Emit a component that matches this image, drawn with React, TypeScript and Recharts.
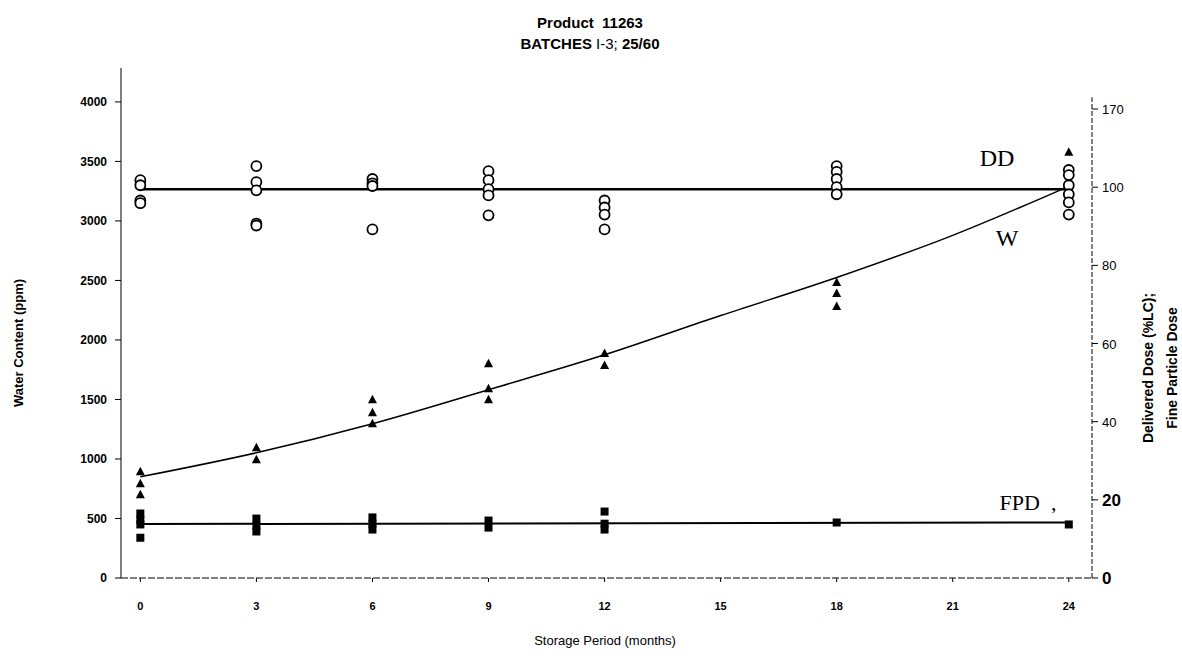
import { ComposedChart, Scatter, Line, XAxis, YAxis, ReferenceLine } from 'recharts';

// storage study, three batches at 25C/60%RH
const sampleMonths = [0, 3, 6, 9, 12, 18, 24];

// delivered dose (%LC), one entry per sample month
const ddByMonth = [
  [101.8, 100.5, 96.6, 95.9],
  [105.4, 101.3, 99.2, 90.7, 90.2],
  [102.1, 101.0, 100.3, 89.2],
  [104.1, 101.8, 99.5, 97.9, 92.8],
  [96.6, 94.8, 93.0, 89.2],
  [105.4, 103.9, 102.1, 100.0, 98.2],
  [104.4, 103.1, 100.5, 98.2, 96.1, 93.0],
];

// water content (ppm)
const waterByMonth = [
  [892, 791, 699],
  [1094, 993],
  [1498, 1389, 1296],
  [1801, 1591, 1498],
  [1886, 1785],
  [2483, 2391, 2281],
  [3577],
];

// fine particle dose
const fpdByMonth = [
  [16.5, 14.9, 13.7, 10.3],
  [15.2, 13.4, 11.9],
  [15.5, 13.9, 12.4],
  [14.7, 12.9],
  [17.0, 13.9, 12.4],
  [14.2],
  [13.7],
];

// trend lines
const fitMonths = [0, 3, 6, 9, 12, 15, 18, 21, 24];
const waterFit = [850, 1052, 1296, 1582, 1875, 2205, 2525, 2879, 3291];
const endMonths = [0, 24];
const ddFit = [99.5, 99.5];
const fpdFit = [13.8, 14.2];

const xTicks = [0, 3, 6, 9, 12, 15, 18, 21, 24];
const waterTicks = [0, 500, 1000, 1500, 2000, 2500, 3000, 3500, 4000];
const doseTicks = [0, 20, 40, 60, 80, 100, 120];
const doseTickLabels = ['0', '20', '40', '60', '80', '100', '170'];

const toPoints = (byMonth: number[][]) =>
  byMonth.flatMap((vals, i) => vals.map((value) => ({ month: sampleMonths[i], value })));

const toLine = (months: number[], vals: number[]) => months.map((month, i) => ({ month, value: vals[i] }));

const OpenCircle = ({ cx, cy }: any) => (
  <circle cx={cx} cy={cy} r={5} fill="#fff" stroke="#000" strokeWidth={1.8} />
);

const Triangle = ({ cx, cy }: any) => (
  <polygon points={`${cx},${cy - 5} ${cx - 4.5},${cy + 3.5} ${cx + 4.5},${cy + 3.5}`} fill="#000" />
);

const Square = ({ cx, cy }: any) => <rect x={cx - 4} y={cy - 4} width={8} height={8} fill="#000" />;

const XTick = ({ x, y, payload }: any) => (
  <text x={x} y={y + 26} textAnchor="middle" fontFamily="Arial" fontSize={11} fontWeight="bold" fill="#000">
    {payload.value}
  </text>
);

const DoseTick = ({ x, y, payload }: any) => {
  const big = payload.value <= 20;
  const label = doseTickLabels[doseTicks.indexOf(payload.value)];
  return (
    <text
      x={x + 2}
      y={y}
      dy={big ? 6 : 5}
      textAnchor="start"
      fontFamily="Arial"
      fontSize={big ? 17 : 13}
      fontWeight={big ? 'bold' : 'normal'}
      fill="#000"
    >
      {label}
    </text>
  );
};

const serif = '"Liberation Serif", "Times New Roman", serif';
const sans = '"Liberation Sans", Arial, sans-serif';

export default function App() {
  return (
    <div style={{ position: 'absolute', left: 0, top: 0, width: 1182, height: 658, background: '#fff', fontFamily: sans }}>
      <div style={{ position: 'absolute', left: 390, width: 400, top: 12, textAlign: 'center', fontSize: 15, fontWeight: 'bold', lineHeight: '21px' }}>
        <div>Product&nbsp; 11263</div>
        <div>
          BATCHES <span style={{ fontWeight: 'normal' }}>I-3;</span> 25/60
        </div>
      </div>

      <ComposedChart width={1182} height={658} margin={{ top: 68, right: 0, bottom: 50, left: 0 }}>
        <XAxis
          type="number"
          dataKey="month"
          domain={[-0.5, 24.6]}
          ticks={xTicks}
          allowDataOverflow
          height={30}
          axisLine={{ stroke: '#000', strokeDasharray: '7 2' }}
          tickLine={{ stroke: '#000' }}
          tickSize={4}
          tick={<XTick />}
        />
        <YAxis
          yAxisId="water"
          dataKey="value"
          domain={[0, 4285]}
          ticks={waterTicks}
          allowDataOverflow
          width={121}
          stroke="#000"
          tickSize={6}
          tickMargin={8}
          tick={{ fontSize: 12, fontWeight: 'bold', fill: '#000', fontFamily: 'Arial' }}
        />
        <YAxis
          yAxisId="dose"
          dataKey="value"
          orientation="right"
          domain={[0, 130.5]}
          ticks={doseTicks}
          allowDataOverflow
          width={90}
          axisLine={false}
          tickLine={{ stroke: '#000' }}
          tickSize={6}
          tick={<DoseTick />}
        />
        <ReferenceLine
          yAxisId="dose"
          segment={[{ x: 24.6, y: 0 }, { x: 24.6, y: 123 }]}
          stroke="#000"
          strokeDasharray="5 2"
        />

        <Line
          yAxisId="dose"
          data={toLine(endMonths, ddFit)}
          dataKey="value"
          stroke="#000"
          strokeWidth={2.5}
          dot={false}
          isAnimationActive={false}
        />
        <Line
          yAxisId="water"
          data={toLine(fitMonths, waterFit)}
          dataKey="value"
          type="monotone"
          stroke="#000"
          strokeWidth={1.5}
          dot={false}
          isAnimationActive={false}
        />
        <Line
          yAxisId="dose"
          data={toLine(endMonths, fpdFit)}
          dataKey="value"
          stroke="#000"
          strokeWidth={2}
          dot={false}
          isAnimationActive={false}
        />

        <Scatter yAxisId="dose" data={toPoints(ddByMonth)} dataKey="value" shape={<OpenCircle />} isAnimationActive={false} />
        <Scatter yAxisId="water" data={toPoints(waterByMonth)} dataKey="value" shape={<Triangle />} isAnimationActive={false} />
        <Scatter yAxisId="dose" data={toPoints(fpdByMonth)} dataKey="value" shape={<Square />} isAnimationActive={false} />
      </ComposedChart>

      <div style={{ position: 'absolute', left: 997, top: 158, transform: 'translate(-50%, -50%)', fontFamily: serif, fontSize: 24 }}>DD</div>
      <div style={{ position: 'absolute', left: 1007, top: 238, transform: 'translate(-50%, -50%)', fontFamily: serif, fontSize: 24 }}>W</div>
      <div style={{ position: 'absolute', left: 1028, top: 503, transform: 'translate(-50%, -50%)', fontFamily: serif, fontSize: 22, whiteSpace: 'pre' }}>FPD  ,</div>

      <div style={{ position: 'absolute', left: 18, top: 343, transform: 'translate(-50%, -50%) rotate(-90deg)', fontSize: 13, fontWeight: 'bold', whiteSpace: 'nowrap' }}>
        Water Content (ppm)
      </div>
      <div style={{ position: 'absolute', left: 1148, top: 368, transform: 'translate(-50%, -50%) rotate(-90deg)', fontSize: 14, fontWeight: 'bold', whiteSpace: 'nowrap' }}>
        Delivered Dose (%LC);
      </div>
      <div style={{ position: 'absolute', left: 1172, top: 368, transform: 'translate(-50%, -50%) rotate(-90deg)', fontSize: 14, fontWeight: 'bold', whiteSpace: 'nowrap' }}>
        Fine Particle Dose
      </div>
      <div style={{ position: 'absolute', left: 605, top: 640, transform: 'translate(-50%, -50%)', fontSize: 13, whiteSpace: 'nowrap' }}>
        Storage Period (months)
      </div>
    </div>
  );
}
